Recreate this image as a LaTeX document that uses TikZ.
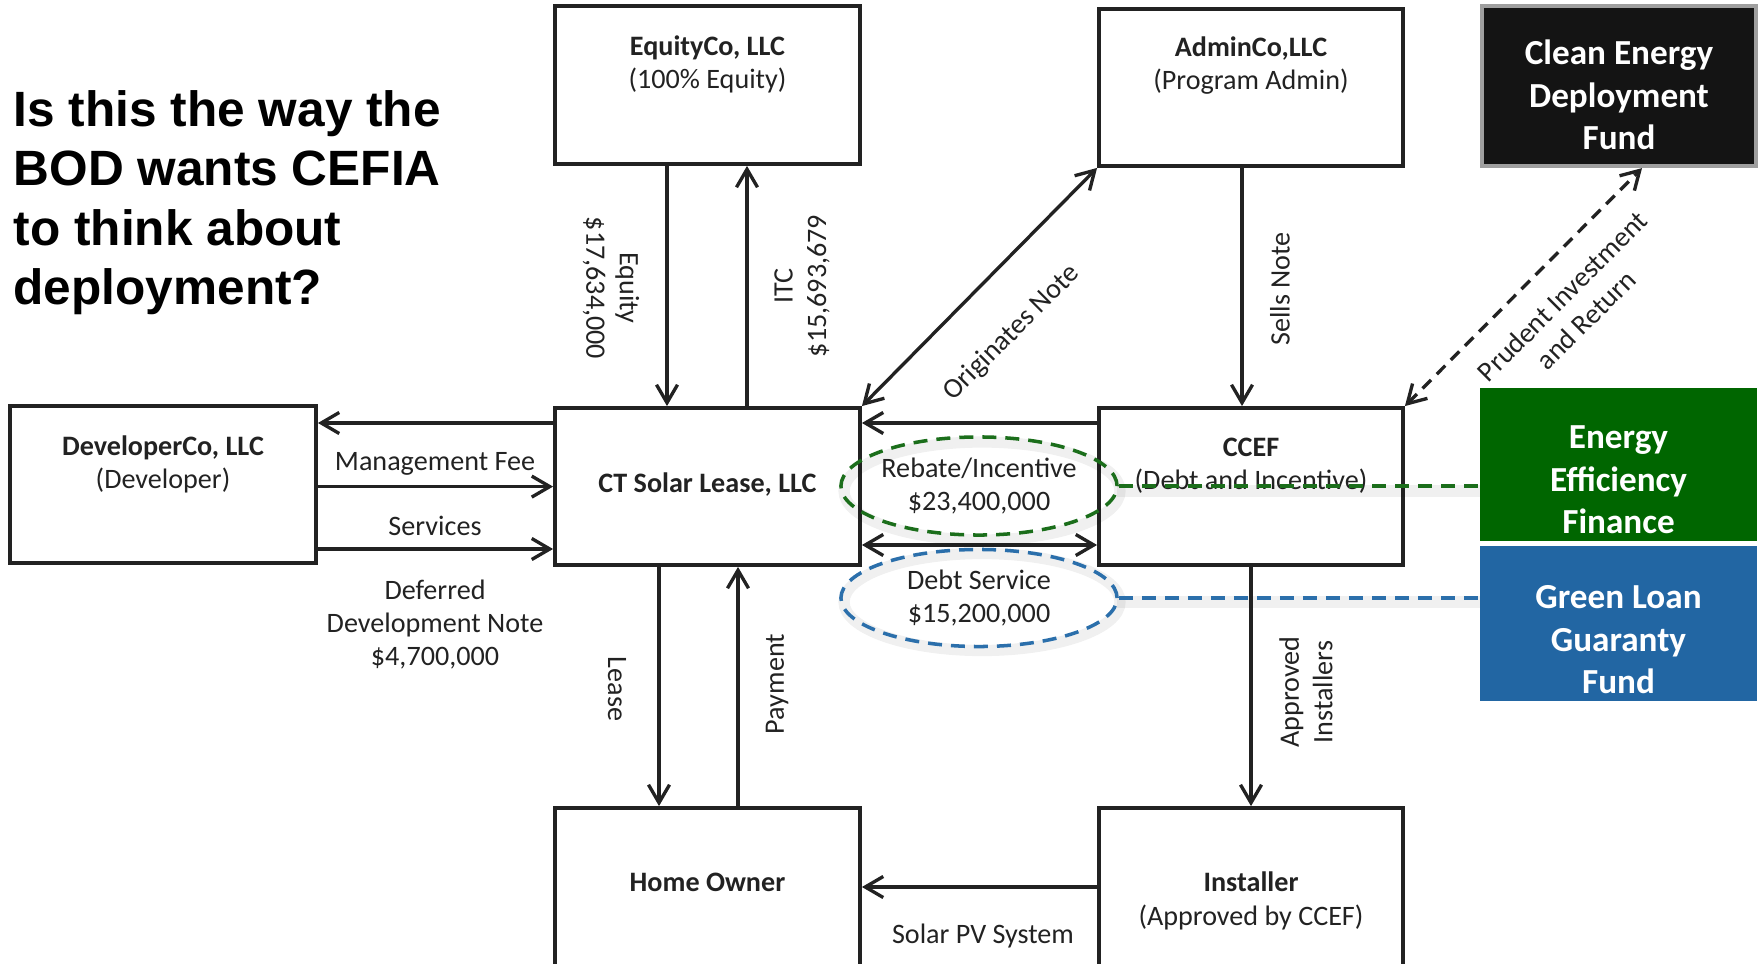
\documentclass[tikz,border=0pt]{standalone}
\usepackage{fontspec}
\setmainfont{Carlito}
\newfontfamily\titlefont{Liberation Sans}
\usetikzlibrary{arrows.meta,fit,shapes.geometric,calc}
\definecolor{ink}{HTML}{222222}
\definecolor{effill}{HTML}{006600}
\definecolor{glfill}{HTML}{2266A3}
\definecolor{gdash}{HTML}{1B6E1B}
\definecolor{bdash}{HTML}{2B6FAB}
\definecolor{cedfill}{HTML}{141414}
\tikzset{
  box/.style={draw=ink, line width=1.1pt, inner sep=0pt},
  lbl/.style={font=\fontsize{8}{9.5}\selectfont, text=ink, align=center, inner sep=0pt},
  fundtxt/.style={font=\bfseries\fontsize{10}{12.1}\selectfont, text=white, align=center, inner sep=0pt},
  tip/.tip={Straight Barb[length=1.8mm,width=2.1mm,line width=0.95pt]},
  arr/.style={draw=ink, line width=0.95pt, -tip},
  darr/.style={draw=ink, line width=0.95pt, tip-tip},
  gdashed/.style={draw=gdash, line width=1pt, dash pattern=on 1.4mm off 0.9mm},
  bdashed/.style={draw=bdash, line width=1pt, dash pattern=on 1.4mm off 0.9mm},
  shade/.style={draw=black, opacity=0.06, line width=3.2pt},
}
\begin{document}
\begin{tikzpicture}[x=0.01cm,y=-0.01cm]
\useasboundingbox (0,0) rectangle (1758,964);
\clip (0,0) rectangle (1758,964);

% title
\node[anchor=west, align=left, font=\titlefont\bfseries\fontsize{14.1}{16.9}\selectfont, text=black, inner sep=0pt] (title) at (13,202.5)
  {Is this the way the\\BOD wants CEFIA\\to think about\\deployment?};

% boxes
\node[box, fit={(555,6) (860,164)}] (eq) {};
\node[lbl] (eqt) at (707.5,64.5) {\textbf{EquityCo, LLC}\\(100\% Equity)};
\node[box, fit={(1099,9) (1403,166)}] (ad) {};
\node[lbl] (adt) at (1251,65.5) {\textbf{AdminCo,LLC}\\(Program Admin)};
\node[fill=cedfill, draw=gray!75, line width=1.2pt, inner sep=0pt, fit={(1482,6) (1756,166)}] (ced) {};
\node[fundtxt] (cedt) at (1619,95) {Clean Energy\\Deployment\\Fund};

\node[box, fit={(10,406) (316,563)}] (dev) {};
\node[lbl] (devt) at (163,464.5) {\textbf{DeveloperCo, LLC}\\(Developer)};
\node[box, fit={(555,408) (860,565)}] (ct) {};
\node[lbl, font=\bfseries\fontsize{8}{9.5}\selectfont] (ctt) at (707.5,484.5) {CT Solar Lease, LLC};
\node[box, fit={(1099,408) (1403,565)}] (cc) {};
\node[lbl] (cct) at (1251,466) {\textbf{CCEF}\\(Debt and Incentive)};

\node[fill=effill, draw=effill, inner sep=0pt, fit={(1481,389) (1756,540)}] (eef) {};
\node[fundtxt] (eeft) at (1618.5,480) {Energy\\Efficiency\\Finance};
\node[fill=glfill, draw=glfill, inner sep=0pt, fit={(1481,547) (1756,700)}] (glf) {};
\node[fundtxt] (glft) at (1618.5,640) {Green Loan\\Guaranty\\Fund};

\node[box, fit={(555,808) (860,1000)}] (ho) {};
\node[lbl, font=\bfseries\fontsize{8}{9.5}\selectfont] (hot) at (707.5,882) {Home Owner};
\node[box, fit={(1099,808) (1403,1000)}] (ins) {};
\node[lbl] (inst) at (1251,901) {\textbf{Installer}\\(Approved by CCEF)};

% EquityCo <-> CT Solar
\draw[arr] (eq.south -| 667,0) -- (ct.north -| 667,0);
\draw[arr] (ct.north -| 747,0) -- (eq.south -| 747,0);
\node[lbl, rotate=-90] (eql) at (611,288) {Equity\\\$17,634,000};
\node[lbl, rotate=90] (itcl) at (802,286) {ITC\\\$15,693,679};

% Originates Note
\draw[darr] (ct.north east) -- (ad.south west);
\node[lbl, rotate=45] (orl) at (1012,333) {Originates Note};

% Sells Note
\draw[arr] (ad.south -| 1242,0) -- (cc.north -| 1242,0);
\node[lbl, rotate=90] (sell) at (1280,289) {Sells Note};

% Prudent investment
\draw[darr, dash pattern=on 1.2mm off 0.8mm] (cc.north east) -- (ced.south -| 1642,0);
\node[lbl, rotate=45] (prl) at (1574,308) {Prudent Investment\\and Return};

% Developer <-> CT Solar
\draw[arr] (ct.west |- 0,423) -- (dev.east |- 0,423);
\draw[arr] (dev.east |- 0,486.6) -- (ct.west |- 0,486.6);
\draw[arr] (dev.east |- 0,549) -- (ct.west |- 0,549);
\node[lbl] (mfl) at (435,464) {Management Fee};
\node[lbl] (svl) at (435,526) {Services};
\node[lbl] (ddl) at (435,624.5) {Deferred\\Development Note\\\$4,700,000};

% CCEF <-> CT Solar
\draw[arr] (cc.west |- 0,423) -- (ct.east |- 0,423);
\draw[darr] (ct.east |- 0,545) -- (cc.west |- 0,545);

% ellipse shadows
\draw[shade] (982,491) ellipse [x radius=138, y radius=49];
\draw[shade] (982,602) ellipse [x radius=138, y radius=48.5];
\draw[shade] (1117,491) -- (1480,491);
\draw[shade] (1117,602) -- (1480,602);

% ellipses
\node[lbl, ellipse, gdashed, minimum width=2.76cm, minimum height=0.98cm] (reb) at (979,486) {Rebate/Incentive\\\$23,400,000};
\node[lbl, ellipse, bdashed, minimum width=2.76cm, minimum height=0.97cm] (ds) at (979,598) {Debt Service\\\$15,200,000};
\draw[gdashed] (reb.east) -- (eef.west |- reb.east);
\draw[bdashed] (ds.east) -- (glf.west |- ds.east);

% CT Solar <-> Home Owner
\draw[arr] (ct.south -| 659,0) -- (ho.north -| 659,0);
\draw[arr] (ho.north -| 738,0) -- (ct.south -| 738,0);
\node[lbl, rotate=-90] (lsl) at (617,689) {Lease};
\node[lbl, rotate=90] (pyl) at (777,684) {Payment};

% CCEF -> Installer
\draw[arr] (cc.south) -- (ins.north);
\node[lbl, rotate=90] (apl) at (1306,692) {Approved\\Installers};

% Installer -> Home Owner
\draw[arr] (ins.west |- 0,887) -- (ho.east |- 0,887);
\node[lbl] (pvl) at (983,936) {Solar PV System};
\end{tikzpicture}
\end{document}
